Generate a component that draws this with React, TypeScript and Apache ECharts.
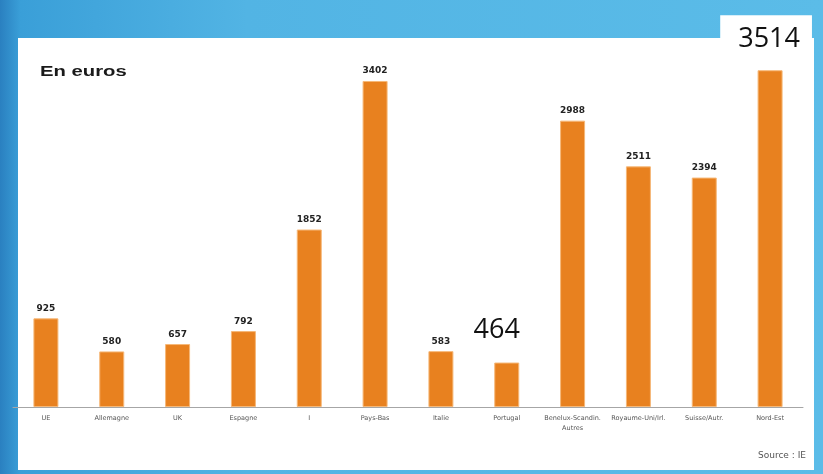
import React, { useEffect, useRef } from "react";
import * as echarts from "echarts";

const categories = [
  "UE",
  "Allemagne",
  "UK",
  "Espagne",
  "I",
  "Pays-Bas",
  "Italie",
  "Portugal",
  "Benelux-Scandin.\nAutres",
  "Royaume-Uni/Irl.",
  "Suisse/Autr.",
  "Nord-Est",
];
const values = [925, 580, 657, 792, 1852, 3402, 583, 464, 2988, 2511, 2394, 3514];
const bigLabelIndex = [7, 11];
const title = "En euros";
const source = "Source : IE";

export default function App() {
  const ref = useRef<HTMLDivElement>(null);
  useEffect(() => {
    if (!ref.current) return;
    const chart = echarts.init(ref.current, null, { renderer: "svg" });
    const data = values.map((v, i) => {
      if (bigLabelIndex.includes(i)) {
        return {
          value: v,
          label: {
            show: true,
            position: "top",
            distance: i === 11 ? 16 : 20,
            offset: i === 11 ? [-4, 0] : [-10, 0],
            formatter: "{c}",
            fontSize: 27,
            fontWeight: "normal",
            color: "#111",
            fontFamily: "Open Sans, sans-serif",
            backgroundColor: "#fff",
            padding: i === 11 ? [8, 12, 4, 18] : [2, 4, 2, 4],
          },
        };
      }
      return { value: v };
    });
    chart.setOption({
      animation: false,
      backgroundColor: "transparent",
      graphic: [
        {
          type: "rect",
          z: -10,
          shape: { x: 0, y: 0, width: 823, height: 474 },
          style: {
            fill: new echarts.graphic.LinearGradient(0, 0, 1, 0, [
              { offset: 0, color: "#2a80c0" },
              { offset: 0.025, color: "#3a9fd8" },
              { offset: 0.3, color: "#52b4e4" },
              { offset: 1, color: "#5bbce8" },
            ]),
          },
        },
        {
          type: "rect",
          z: -9,
          shape: { x: 18, y: 38, width: 796, height: 432 },
          style: { fill: "#ffffff" },
        },
        {
          type: "text",
          x: 40,
          y: 64,
          scaleX: 1.45,
          style: {
            text: title,
            fontSize: 14,
            fontWeight: "bold",
            fill: "#1a1a1a",
            fontFamily: "Liberation Sans, Arial, sans-serif",
          },
        },
        {
          type: "text",
          x: 806,
          y: 450,
          style: {
            text: source,
            align: "right",
            fontSize: 9,
            fill: "#555",
            fontFamily: "DejaVu Sans, sans-serif",
          },
        },
      ],
      grid: { left: 13, right: 20, top: 62, bottom: 67, containLabel: false },
      xAxis: {
        type: "category",
        data: categories,
        axisLine: { lineStyle: { color: "#a6a6a6", width: 1 } },
        axisTick: { show: false },
        axisLabel: {
          interval: 0,
          fontSize: 6.5,
          color: "#555",
          margin: 6,
          lineHeight: 10,
          fontFamily: "DejaVu Sans, sans-serif",
        },
      },
      yAxis: {
        type: "value",
        min: 0,
        max: 3600,
        show: false,
        splitLine: { show: false },
      },
      series: [
        {
          type: "bar",
          data,
          barWidth: 25,
          itemStyle: { color: "#e8811f", borderColor: "#f6b878", borderWidth: 1 },
          label: {
            show: true,
            position: "top",
            distance: 6,
            fontSize: 9,
            fontWeight: "bold",
            color: "#222",
            fontFamily: "DejaVu Sans, sans-serif",
          },
        },
      ],
    });
    return () => chart.dispose();
  }, []);
  return (
    <div
      ref={ref}
      style={{ position: "fixed", left: 0, top: 0, width: 823, height: 474 }}
    />
  );
}
